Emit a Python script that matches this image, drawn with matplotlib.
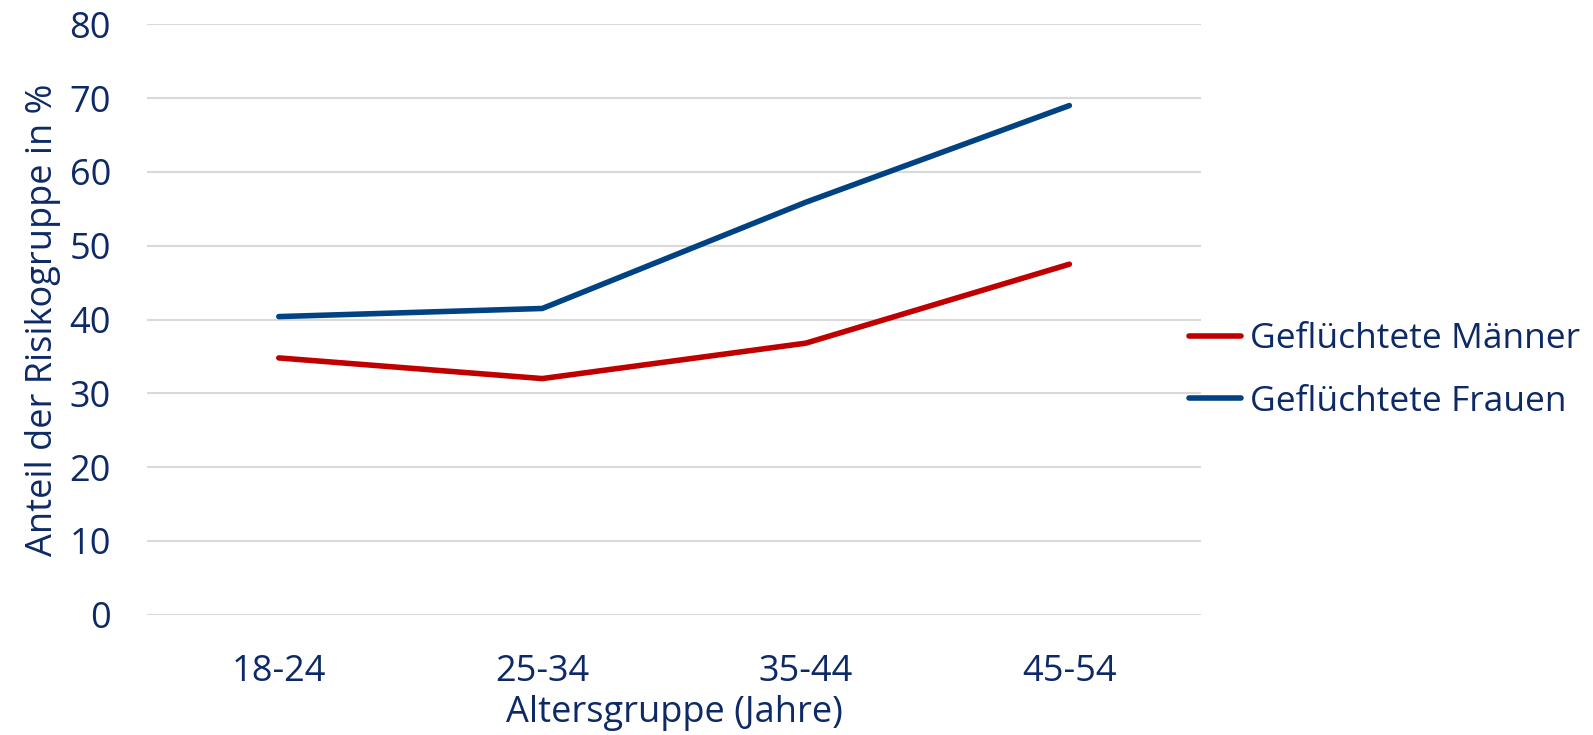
import matplotlib.pyplot as plt

# Anteil der Risikogruppe nach Altersgruppe
altersgruppen = ['18-24', '25-34', '35-44', '45-54']
maenner = [34.8, 32.0, 36.8, 47.5]
frauen = [40.4, 41.5, 55.9, 69.0]

navy = '#0D2A66'
plt.rcParams['font.family'] = ['Open Sans', 'DejaVu Sans']

fig = plt.figure(figsize=(15.93, 7.35), dpi=100)
ax = fig.add_axes([0.0923, 0.1637, 0.6617, 0.8031])

x = range(len(altersgruppen))
ax.plot(x, maenner, color='#C00000', lw=4, solid_capstyle='round',
        label='Geflüchtete Männer', zorder=3)
ax.plot(x, frauen, color='#004282', lw=4, solid_capstyle='round',
        label='Geflüchtete Frauen', zorder=3)

ax.set_xlim(-0.5, len(altersgruppen) - 0.5)
ax.set_ylim(0, 80)
ax.set_yticks(range(0, 81, 10))
ax.set_xticks(list(x))
ax.set_xticklabels(altersgruppen)

ax.grid(axis='y', color='#D9D9D9', lw=1.5)
ax.set_axisbelow(True)
for s in ax.spines.values():
    s.set_visible(False)
ax.tick_params(length=0, colors=navy, labelsize=26)
ax.tick_params(axis='x', pad=28)
ax.tick_params(axis='y', pad=26)

ax.set_xlabel('Altersgruppe (Jahre)', color=navy, fontsize=26, labelpad=4)
ax.set_ylabel('Anteil der Risikogruppe in %', color=navy, fontsize=26,
              labelpad=6)

fig.legend(loc='center left', bbox_to_anchor=(0.7355, 0.496), frameon=False,
           fontsize=25.5, labelcolor=navy, handlelength=1.45, handletextpad=0.25,
           labelspacing=0.8, borderpad=0)

fig.savefig('out.png', dpi=100)
